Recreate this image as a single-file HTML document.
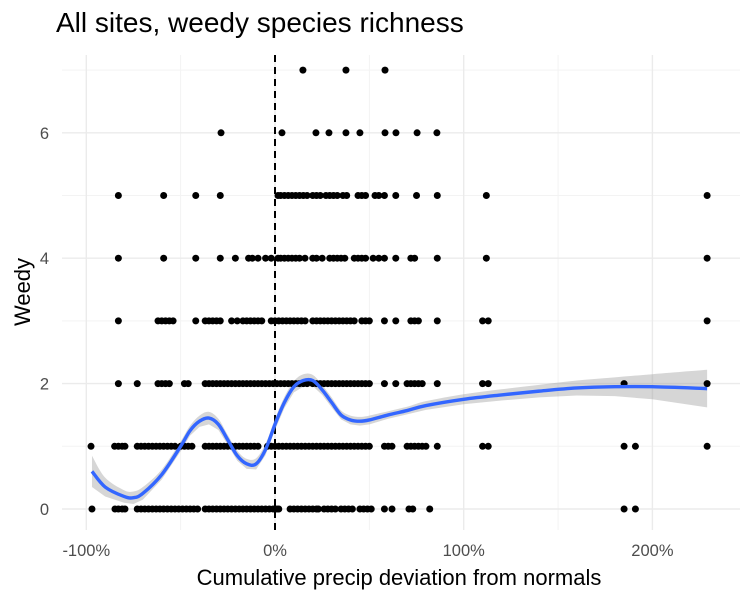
<!DOCTYPE html>
<html><head><meta charset="utf-8"><style>
body{margin:0;background:#fff;}
svg{display:block;font-family:"Liberation Sans",sans-serif;}
</style></head><body>
<svg id="chart" width="750" height="600">
<text x="56" y="32" font-size="28" fill="#000">All sites, weedy species richness</text>
<text transform="translate(30,292) rotate(-90)" text-anchor="middle" font-size="22" fill="#000">Weedy</text>
<text x="399" y="585" text-anchor="middle" font-size="22" fill="#000">Cumulative precip deviation from normals</text>
<g id="grid"></g><g id="band"></g><g id="pts"></g><g id="fit"></g><g id="ticks"></g>
</svg>
<script>
const xTicks=[-100,0,100,200];
const xTickLabels=["-100%","0%","100%","200%"];
const yTicks=[0,2,4,6];
const yTickLabels=["0","2","4","6"];
const row0=[-97,-84.8,-83,-81,-79.5,-73,-71,-69,-67,-65,-63,-61,-59,-57,-55,-53,-51,-49,-47,-45,-43,-41,-37,-35,-33,-31,-29,-27,-25,-23,-21,-19,-17,-15,-13,-11,-9,-7,-5,-3,-1,1,2,8,10,12,14,16,18,20,22,23,26,28,30,32,35,37,39,41,45,47,49,51,58,62,71,73,82,185,191];
const row1=[-97.5,-85,-83,-81,-79.5,-73,-71,-69,-67,-65,-63,-61,-59,-57,-55,-53,-50,-48,-46,-44,-37,-35,-33,-31,-29,-27,-25,-23,-21,-19,-17,-15,-13,-11,-9,-4,-2,0,2,4,6,8,10,12,14,16,18,20,22,24,26,28,30,32,34,36,38,40,42,44,46,48,50,58,60,62,70,72,74,76,78,80,86,110,113,185,191,229];
const row2=[-83,-73,-62,-60,-58,-56,-48,-46,-37,-35,-33,-31,-29,-27,-25,-23,-21,-19,-17,-15,-13,-11,-9,-7,-5,-3,-1,1,3,5,7,9,11,13,15,17,20,22,24,26,28,30,32,34,36,38,40,42,44,46,48,50,58,64,70,72,74,76,78,86,110,113,185,229];
const row3=[-83,-62,-60,-58,-56,-54,-42,-37,-35,-33,-31,-29,-23,-20,-17,-15,-13,-11,-9,-7,-2,0,2,4,6,8,10,12,14,16,20,22,24,26,28,30,32,34,36,38,40,42,46,48,50,58,64,72,74,76,86,110,113,229];
const row4=[-83,-59,-42,-29,-21,-14,-12,-9,-5,-2,1.6,3,5,7,9,11,13,15.9,20,22,25,29,31,33,35,37,42,44,46,48,52,55,58,64,72,74,86,112,229];
const row5=[-83,-59,-42,-29,1.6,3,5,7,9,11,13,15,17,20,22,24,27,29,31,33,36,38,44,46,48,53,55,58,64,75,86,112,229];
const row6=[-28.6,3.7,21.7,28.6,37.6,45,58.3,64.1,75.3,85.8];
const row7=[14.8,37.6,58.3];
const rows=[row0,row1,row2,row3,row4,row5,row6,row7];
const fitX=[-97,-90,-80,-75,-70,-60,-50,-45,-40,-35,-30,-25,-20,-15,-10,-5,0,5,10,15,20,25,30,35,40,45,50,60,70,80,100,120,140,160,180,200,229];
const fitY=[0.6,0.35,0.2,0.18,0.25,0.55,1.0,1.25,1.4,1.45,1.35,1.1,0.85,0.72,0.72,0.95,1.35,1.7,1.95,2.05,2.05,1.9,1.7,1.5,1.42,1.4,1.42,1.5,1.57,1.65,1.75,1.82,1.88,1.93,1.95,1.95,1.92];
const fitSE=[0.25,0.15,0.1,0.1,0.1,0.08,0.08,0.08,0.09,0.1,0.09,0.08,0.08,0.08,0.09,0.09,0.09,0.09,0.09,0.1,0.09,0.08,0.08,0.07,0.07,0.07,0.07,0.06,0.06,0.07,0.08,0.09,0.1,0.12,0.15,0.2,0.3];

const NS="http://www.w3.org/2000/svg";
const L=62,R=740,T=55,B=530;
const sx=v=>275+1.887*v;
const sy=v=>509-62.7*v;
function mk(p,tag,a){const e=document.createElementNS(NS,tag);for(const k in a)e.setAttribute(k,a[k]);document.getElementById(p).appendChild(e);return e;}
[-50,50,150].forEach(v=>{const e=mk('grid','line',{x1:sx(v),x2:sx(v),y1:T,y2:B,stroke:'#f3f3f3','stroke-width':1});

});
[1,3,5,7].forEach(v=>{const e=mk('grid','line',{x1:L,x2:R,y1:sy(v),y2:sy(v),stroke:'#f3f3f3','stroke-width':1});

});
xTicks.forEach((v,i)=>{const e=mk('grid','line',{x1:sx(v),x2:sx(v),y1:T,y2:B,stroke:'#ebebeb','stroke-width':1.4});


const t=mk('ticks','text',{x:sx(v),y:556,'text-anchor':'middle','font-size':16.5,fill:'#4d4d4d'});t.textContent=xTickLabels[i];

});
yTicks.forEach((v,i)=>{const e=mk('grid','line',{x1:L,x2:R,y1:sy(v),y2:sy(v),stroke:'#ebebeb','stroke-width':1.4});


const t=mk('ticks','text',{x:49,y:sy(v)+6,'text-anchor':'end','font-size':16.5,fill:'#4d4d4d'});t.textContent=yTickLabels[i];

});
const z=mk('grid','line',{x1:sx(0),x2:sx(0),y1:T,y2:B,stroke:'#000','stroke-width':2,'stroke-dasharray':'7,5'});


rows.forEach((r,y)=>r.forEach(x=>{const c=mk('pts','circle',{cx:sx(x),cy:sy(y),r:3.5,fill:'#000'});

}));
function path(xs,ys){const p=xs.map((x,i)=>[sx(x),sy(ys[i])]);let d='M'+p[0];
for(let i=0;i<p.length-1;i++){const p0=p[i-1]||p[i],p1=p[i],p2=p[i+1],p3=p[i+2]||p2;
d+=' C'+(p1[0]+(p2[0]-p0[0])/6)+','+(p1[1]+(p2[1]-p0[1])/6)+' '+(p2[0]-(p3[0]-p1[0])/6)+','+(p2[1]-(p3[1]-p1[1])/6)+' '+p2;}return d;}
const up=fitY.map((v,i)=>v+fitSE[i]), lo=fitY.map((v,i)=>v-fitSE[i]);
const upD=path(fitX,up);
const loPts=fitX.map((x,i)=>[sx(x),sy(lo[i])]).reverse();
const b=mk('band','path',{d:upD+' L'+loPts.map(p=>p.join(',')).join(' L')+' Z',fill:'#999',opacity:0.4});


const f=mk('fit','path',{d:path(fitX,fitY),fill:'none',stroke:'#3366ff','stroke-width':3.4});


</script>
</body></html>
